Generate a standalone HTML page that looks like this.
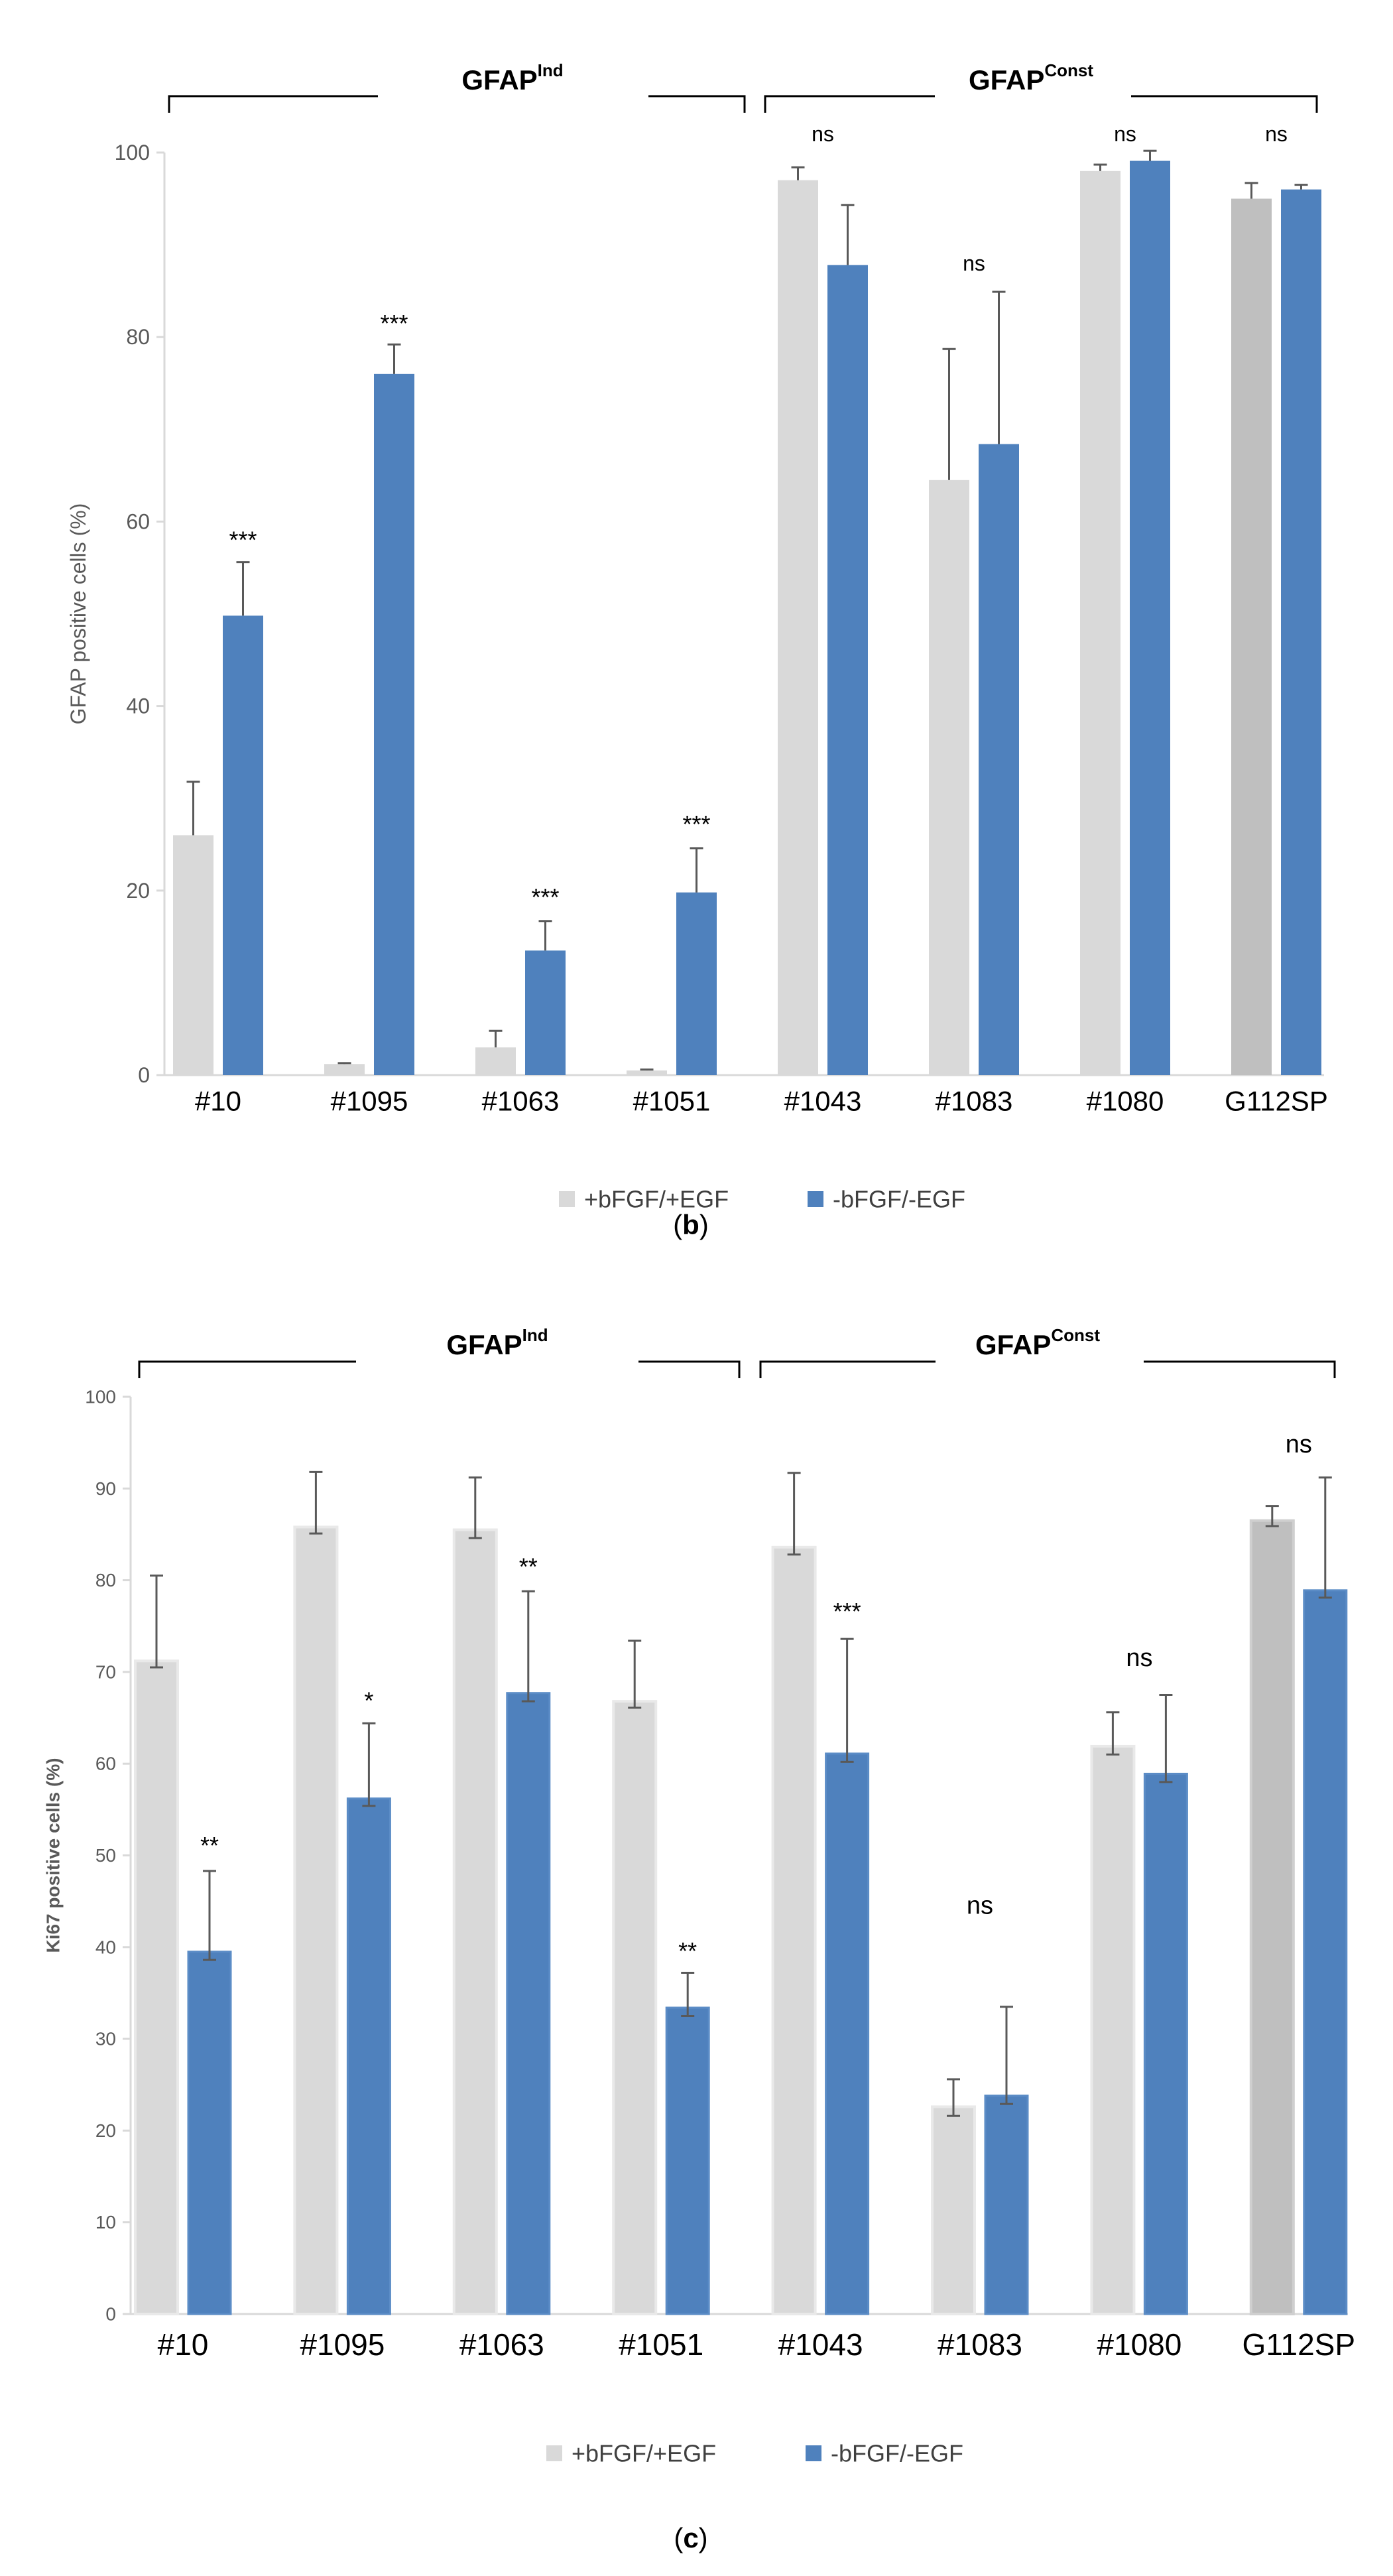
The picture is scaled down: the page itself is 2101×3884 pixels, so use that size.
<!DOCTYPE html>
<html><head><meta charset="utf-8">
<style>
html,body{margin:0;padding:0;background:#fff;}
svg{display:block;}
text{font-family:"Liberation Sans",sans-serif;}
</style></head>
<body>
<svg id="fig" width="2101" height="3884" viewBox="0 0 2101 3884" xmlns="http://www.w3.org/2000/svg"></svg>
<script>
// ---- shared data ----
const categories = ["#10","#1095","#1063","#1051","#1043","#1083","#1080","G112SP"];
const yTicksB = [0,20,40,60,80,100];
const yTicksC = [0,10,20,30,40,50,60,70,80,90,100];
const legendLabels = ["+bFGF/+EGF","-bFGF/-EGF"];

// ---- panel b (GFAP) ----
const bGray = [26, 1.2, 3, 0.5, 97, 64.5, 98, 95];
const bGrayErrUp = [31.8, 1.3, 4.8, 0.6, 98.4, 78.7, 98.7, 96.7];
const bBlue = [49.8, 76, 13.5, 19.8, 87.8, 68.4, 99.1, 96];
const bBlueErrUp = [55.6, 79.2, 16.7, 24.6, 94.3, 84.9, 100.2, 96.5];
const bSig = ["***","***","***","***","ns","ns","ns","ns"];
const bSigY = [58, 81.5, 19.3, 27.2, 102, 88, 102, 102];

// ---- panel c (Ki67) ----
const cGray = [71.2, 85.8, 85.5, 66.8, 83.6, 22.6, 61.9, 86.5];
const cGrayErrUp = [80.5, 91.8, 91.2, 73.4, 91.7, 25.6, 65.6, 88.1];
const cGrayErrLo = [70.5, 85.1, 84.6, 66.1, 82.8, 21.6, 61.0, 85.9];
const cBlue = [39.5, 56.2, 67.7, 33.4, 61.1, 23.8, 58.9, 78.9];
const cBlueErrUp = [48.3, 64.4, 78.8, 37.2, 73.6, 33.5, 67.5, 91.2];
const cBlueErrLo = [38.6, 55.4, 66.8, 32.5, 60.2, 22.9, 58.0, 78.1];
const cSig = ["**","*","**","**","***","ns","ns","ns"];
const cSigY = [51.1, 66.9, 81.5, 39.6, 76.6, 44.5, 71.5, 94.8];

const NS = "http://www.w3.org/2000/svg";
const svg = document.getElementById('fig');
function mk(tag, attrs, parent, txt){
  const e = document.createElementNS(NS, tag);
  for (const k in attrs) e.setAttribute(k, attrs[k]);
  if (txt !== undefined) e.textContent = txt;
  (parent || svg).appendChild(e);
  return e;
}

function drawPanel(p){
  const g = mk('g', {});
  
  
  const y = v => p.y0 - (v - 0) / 100 * (p.y0 - p.y100);
  const gx = i => p.x0 + i * p.pitch;
  // axis
  const ax = mk('line', {x1:p.axisX, y1:p.y100, x2:p.axisX, y2:p.y0, stroke:'#d9d9d9', 'stroke-width':3}, g);
  
  
  const bl = mk('line', {x1:p.axisX, y1:p.y0, x2:p.xEnd, y2:p.y0, stroke:'#d9d9d9', 'stroke-width':3}, g);
  
  
  p.ticks.forEach(t => {
    mk('line', {x1:p.axisX-12, y1:y(t), x2:p.axisX, y2:y(t), stroke:'#d9d9d9','stroke-width':3}, g);
    const tl = mk('text', {x:p.axisX-22, y:y(t), 'text-anchor':'end', 'dominant-baseline':'central', 'font-size':p.tickFont, fill:'#595959'}, g, String(t));
    
    
  });
  // y title
  const yt = mk('text', {x:p.titleX, y:(p.y0+p.y100)/2, 'text-anchor':'middle', 'dominant-baseline':'central', 'font-size':p.titleFont, fill:'#595959', 'font-weight':p.titleWeight, transform:`rotate(-90 ${p.titleX} ${(p.y0+p.y100)/2})`}, g, p.title);
  
  
  // bars
  categories.forEach((c, i) => {
    const xg = gx(i), xb = gx(i) + p.blueOff;
    const grayFill = i === 7 ? '#bfbfbf' : '#d9d9d9';
    const gb = mk('rect', {x:xg, y:y(p.gray[i]), width:p.bw, height:y(0)-y(p.gray[i]), fill:grayFill}, g);
    if (p.edge) { gb.setAttribute('stroke', i===7 ? '#cfcfcf' : '#e9e9e9'); gb.setAttribute('stroke-width', 4); }
    
    
    const bb = mk('rect', {x:xb, y:y(p.blue[i]), width:p.bw, height:y(0)-y(p.blue[i]), fill:'#4f81bd'}, g);
    if (p.edge) { bb.setAttribute('stroke', '#5b8cc6'); bb.setAttribute('stroke-width', 3); }
    
    
    // error bars
    const eb = (cx, up, lo) => {
      const e = mk('g', {stroke:'#595959','stroke-width':3}, g);
      
      
      mk('line', {x1:cx, y1:y(up), x2:cx, y2:y(lo)}, e);
      mk('line', {x1:cx-p.cap, y1:y(up), x2:cx+p.cap, y2:y(up)}, e);
      if (p.lowCap) mk('line', {x1:cx-p.cap, y1:y(lo), x2:cx+p.cap, y2:y(lo)}, e);
    };
    eb(xg + p.bw/2, p.grayUp[i], p.grayLo ? p.grayLo[i] : p.gray[i]);
    eb(xb + p.bw/2, p.blueUp[i], p.blueLo ? p.blueLo[i] : p.blue[i]);
    // significance
    const isNs = p.sig[i] === 'ns';
    const sx = isNs ? (xg + xb + p.bw) / 2 : xb + p.bw/2;
    const st = mk('text', {x:sx, y:y(p.sigY[i]), 'text-anchor':'middle', 'dominant-baseline':'central', 'font-size': isNs ? p.nsFont : p.starFont, fill:'#000', 'font-family': isNs ? '"Liberation Sans",sans-serif' : '"Liberation Serif",serif'}, g, p.sig[i]);
    
    
    // category label
    const cl = mk('text', {x:(xg + xb + p.bw)/2, y:p.catY, 'text-anchor':'middle', 'dominant-baseline':'central', 'font-size':p.catFont, fill:'#000'}, g, c);
    
    
  });
  // brackets
  p.brackets.forEach(br => {
    const bg = mk('g', {stroke:'#000','stroke-width':3, fill:'none'}, g);
    
    
    mk('path', {d:`M${br[0]} ${p.brTick} L${br[0]} ${p.brY} L${br[1]} ${p.brY}`}, bg);
    mk('path', {d:`M${br[2]} ${p.brY} L${br[3]} ${p.brY} L${br[3]} ${p.brTick}`}, bg);
  });
  p.headers.forEach(h => {
    const t = mk('text', {x:h[0], y:p.hdrY, 'text-anchor':'middle', 'dominant-baseline':'central', 'font-size':42, 'font-weight':'bold', fill:'#000'}, g);
    
    
    mk('tspan', {}, t, 'GFAP');
    mk('tspan', {'font-size':26, dy:-14}, t, h[1]);
  });
  // legend
  const lg = mk('g', {}, g);
  
  
  const cols = ['#d9d9d9', '#4f81bd'];
  legendLabels.forEach((l, k) => {
    const r = mk('rect', {x:p.legX[k], y:p.legY-12, width:24, height:24, fill:cols[k]}, lg);
    
    
    const t = mk('text', {x:p.legX[k]+38, y:p.legY, 'dominant-baseline':'central', 'font-size':36, fill:'#404040'}, lg, l);
    
    
  });
  const cap = mk('text', {x:1042, y:p.capY, 'text-anchor':'middle', 'dominant-baseline':'central', 'font-size':42, 'font-family':'"Liberation Serif",serif', fill:'#000'}, g);
  
  
  mk('tspan', {}, cap, '(');
  mk('tspan', {'font-weight':'bold'}, cap, p.id);
  mk('tspan', {}, cap, ')');
}

drawPanel({
  id:'b', y0:1621, y100:230, axisX:248, xEnd:1997, x0:261, pitch:228, bw:61, blueOff:75,
  ticks:yTicksB, tickFont:32, title:'GFAP positive cells (%)', titleX:118, titleFont:32, titleWeight:'normal',
  gray:bGray, grayUp:bGrayErrUp, blue:bBlue, blueUp:bBlueErrUp, sig:bSig, sigY:bSigY,
  cap:10, lowCap:false, edge:false, starFont:36, nsFont:32, catY:1660, catFont:42,
  brackets:[[255,570,978,1123],[1154,1410,1706,1986]], brY:145, brTick:170, hdrY:120,
  headers:[[773,'Ind'],[1555,'Const']], legX:[843,1218], legY:1808, capY:1846
});
drawPanel({
  id:'c', y0:3489, y100:2106, axisX:197, xEnd:2033, x0:204, pitch:240.4, bw:64, blueOff:80,
  ticks:yTicksC, tickFont:28, title:'Ki67 positive cells (%)', titleX:80, titleFont:28, titleWeight:'bold',
  gray:cGray, grayUp:cGrayErrUp, grayLo:cGrayErrLo, blue:cBlue, blueUp:cBlueErrUp, blueLo:cBlueErrLo, sig:cSig, sigY:cSigY,
  cap:10, lowCap:true, edge:true, starFont:36, nsFont:38, catY:3535, catFont:46,
  brackets:[[210,537,963,1115],[1147,1411,1725,2013]], brY:2053, brTick:2078, hdrY:2027,
  headers:[[750,'Ind'],[1565,'Const']], legX:[824,1215], legY:3699, capY:3826
});
</script>
</body></html>
